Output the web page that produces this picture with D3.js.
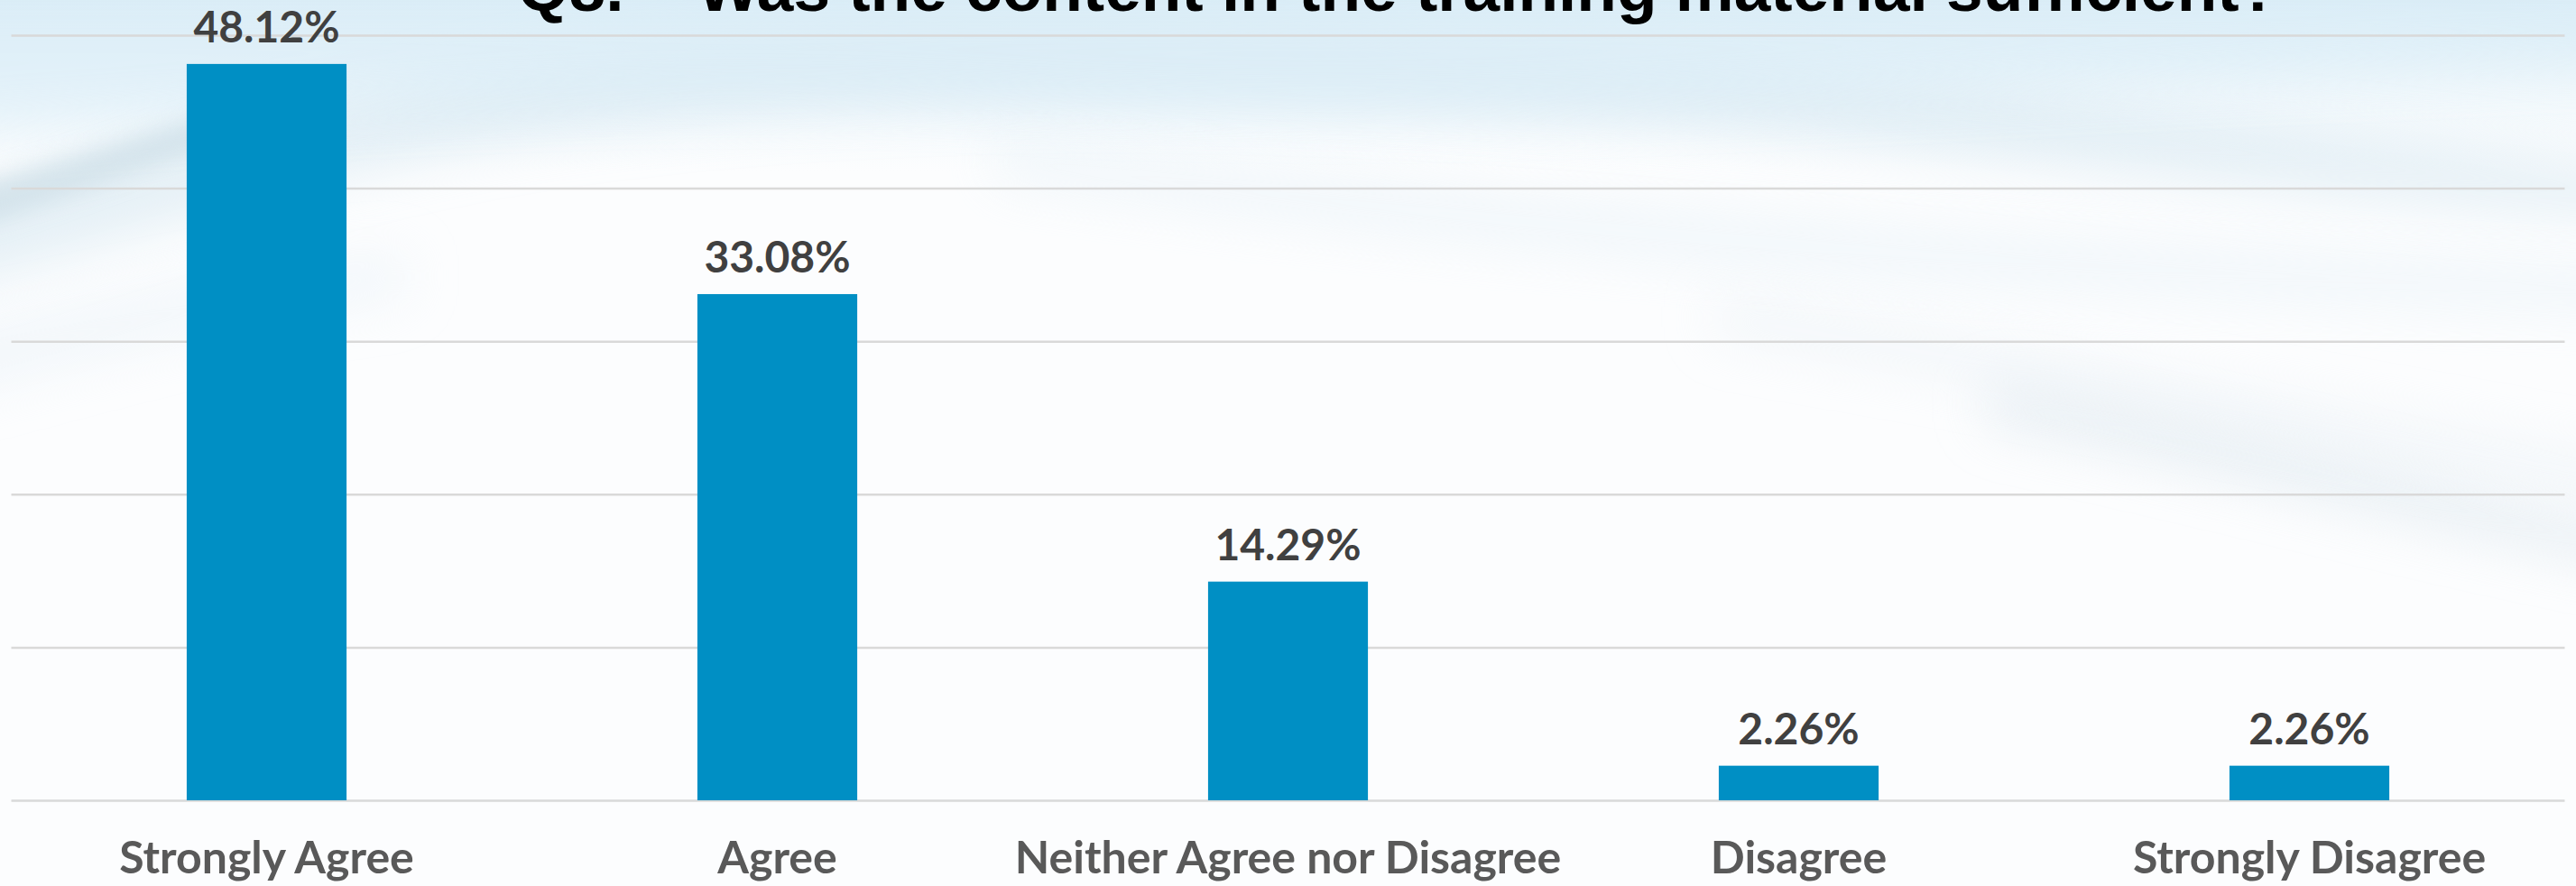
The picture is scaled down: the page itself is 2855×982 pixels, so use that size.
<!DOCTYPE html>
<html>
<head>
<meta charset="utf-8">
<script src="https://cdn.jsdelivr.net/npm/d3@7"></script>
<style>
  html, body { margin: 0; padding: 0; background: #fcfdfe; overflow: hidden; }
  svg { display: block; }
</style>
</head>
<body>
<svg id="chart" width="2855" height="982"></svg>
<script>
// ---- data ----
const titleText = "Q8. – Was the content in the training material sufficient?";
const categories = ["Strongly Agree", "Agree", "Neither Agree nor Disagree", "Disagree", "Strongly Disagree"];
const values = [48.12, 33.08, 14.29, 2.26, 2.26];
const valueLabels = ["48.12%", "33.08%", "14.29%", "2.26%", "2.26%"];
const gridTicks = [0, 10, 20, 30, 40, 50];

// ---- layout ----
const W = 2855, H = 982;
const svg = d3.select("#chart");
const defs = svg.append("defs");

// background
const blur = defs.append("filter").attr("id", "blur").attr("x", "-20%").attr("y", "-50%").attr("width", "140%").attr("height", "200%");
blur.append("feGaussianBlur").attr("stdDeviation", 28);
const blur2 = defs.append("filter").attr("id", "blur2").attr("x", "-20%").attr("y", "-50%").attr("width", "140%").attr("height", "200%");
blur2.append("feGaussianBlur").attr("stdDeviation", 12);

const topGrad = defs.append("linearGradient").attr("id", "topGrad").attr("x1", 0).attr("y1", 0).attr("x2", 0).attr("y2", 1);
topGrad.append("stop").attr("offset", "0%").attr("stop-color", "#d9ecf6").attr("stop-opacity", 1);
topGrad.append("stop").attr("offset", "100%").attr("stop-color", "#e8f4fa").attr("stop-opacity", 0);

const bg = svg.append("g").attr("class", "background");
bg.append("rect").attr("width", W).attr("height", H).attr("fill", "#fcfdfe");
bg.append("rect").attr("x", 0).attr("y", 0).attr("width", W).attr("height", 190).attr("fill", "url(#topGrad)");

const streaks = [
  {d: "M-100,240 C200,150 500,60 900,40 C1400,20 1900,60 2300,110 C2600,150 2800,170 2960,200 L2960,240 C2700,230 2400,200 2000,150 C1500,100 1000,90 600,150 C300,200 100,280 -100,330 Z", fill: "#cfe3ee", op: 0.5, f: "blur"},
  {d: "M-100,150 C300,120 700,90 1100,110 C1600,140 2000,100 2960,60 L2960,0 L-100,0 Z", fill: "#dceef8", op: 0.65, f: "blur"},
  {d: "M2200,420 C2450,460 2650,520 2960,600 L2960,640 C2650,580 2450,520 2200,470 Z", fill: "#dde7ee", op: 0.6, f: "blur"},
  {d: "M1900,330 C2200,380 2500,440 2960,520 L2960,560 C2500,480 2200,420 1900,370 Z", fill: "#e6eef4", op: 0.5, f: "blur"},
  {d: "M1100,150 C1500,200 2000,260 2960,300 L2960,350 C2000,320 1500,260 1100,200 Z", fill: "#e3eff6", op: 0.45, f: "blur"},
  {d: "M-50,210 C60,180 150,150 260,120 L280,150 C170,180 80,220 -50,260 Z", fill: "#c5d9e3", op: 0.6, f: "blur2"},
  {d: "M-100,380 C100,340 250,300 450,280 L450,330 C250,350 100,400 -100,450 Z", fill: "#e7f0f7", op: 0.5, f: "blur"}
];
bg.selectAll("path.streak").data(streaks).enter().append("path")
  .attr("class", "streak")
  .attr("d", d => d.d).attr("fill", d => d.fill).attr("opacity", d => d.op)
  .attr("filter", d => `url(#${d.f})`);

// scales
const x = d3.scaleBand().domain(categories).range([12.5, 2842.5]).paddingInner(0.687).paddingOuter(0.3435);
const y = d3.scaleLinear().domain([0, 50]).range([887, 39]);

// gridlines
const grid = svg.append("g").attr("class", "grid")
  .call(d3.axisLeft(y).tickValues(gridTicks).tickSize(-(2842.5 - 12.5)).tickFormat(""))
  .attr("transform", "translate(12.5,0)");
grid.select(".domain").remove();
grid.selectAll(".tick line").attr("stroke", "#d9d9d9").attr("stroke-width", 2.5);

// bars
svg.append("g").selectAll("rect.bar").data(values).enter().append("rect")
  .attr("class", "bar")
  .attr("x", (d, i) => x(categories[i]))
  .attr("width", x.bandwidth())
  .attr("y", d => y(d))
  .attr("height", d => y(0) - y(d))
  .attr("fill", "#008fc4");

// value labels
svg.append("g").selectAll("text.val").data(values).enter().append("text")
  .attr("class", "val")
  .attr("x", (d, i) => x(categories[i]) + x.bandwidth() / 2)
  .attr("y", d => y(d) - 24)
  .attr("text-anchor", "middle")
  .attr("font-family", "Lato, 'Open Sans', sans-serif")
  .attr("font-weight", 700)
  .attr("font-size", 48)
  .attr("fill", "#404040")
  .text((d, i) => valueLabels[i]);

// category axis
const xAxis = svg.append("g").attr("class", "xaxis")
  .attr("transform", `translate(0,${y(0)})`)
  .call(d3.axisBottom(x).tickSize(0).tickPadding(81));
xAxis.select(".domain").remove();
xAxis.selectAll("text")
  .attr("font-family", "Lato, 'Open Sans', sans-serif")
  .attr("font-weight", 700)
  .attr("font-size", 50)
  .attr("fill", "#595959")
  .attr("dy", 0);

// title
svg.append("text")
  .attr("x", 1550).attr("y", 12)
  .attr("text-anchor", "middle")
  .attr("font-family", "'Liberation Sans', Arial, sans-serif")
  .attr("font-weight", 700)
  .attr("font-size", 73)
  .attr("fill", "#000000")
  .text(titleText);
</script>
</body>
</html>
